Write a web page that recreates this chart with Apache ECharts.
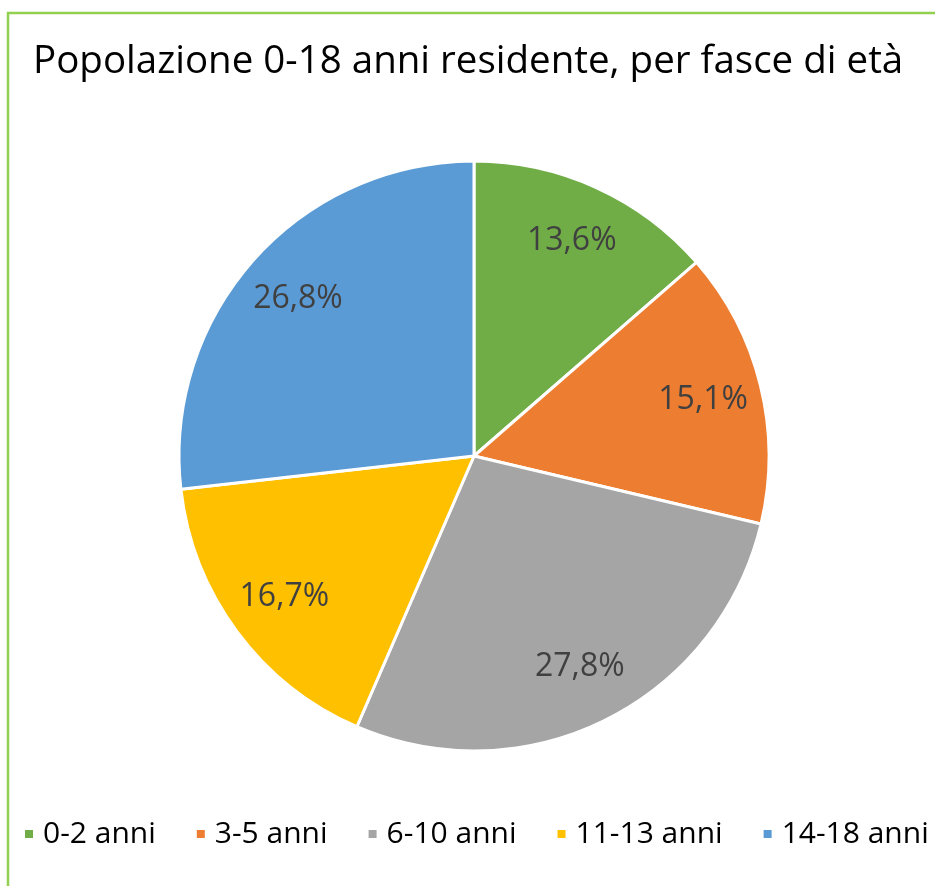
<!DOCTYPE html>
<html>
<head>
<meta charset="utf-8">
<script src="https://cdn.jsdelivr.net/npm/echarts@6/dist/echarts.min.js"></script>
<style>
html,body{margin:0;padding:0;background:#fff;}
#c{width:935px;height:886px;}
</style>
</head>
<body>
<div id="c"></div>
<script>
const titleText = 'Popolazione 0-18 anni residente, per fasce di età';
const categories = ['0-2 anni', '3-5 anni', '6-10 anni', '11-13 anni', '14-18 anni'];
const values = [13.6, 15.1, 27.8, 16.7, 26.8];
const colors = ['#70ad47', '#ed7d31', '#a5a5a5', '#ffc000', '#5b9bd5'];

const data = categories.map((c, i) => ({ name: c, value: values[i] }));
const FONT = '"Open Sans", sans-serif';

const chart = echarts.init(document.getElementById('c'));
chart.setOption({
  animation: false,
  color: colors,
  graphic: [{
    type: 'rect', silent: true, z: -1,
    shape: { x: 8, y: 13, width: 1200, height: 1200 },
    style: { fill: 'none', stroke: '#92d050', lineWidth: 2.5 }
  }],
  title: {
    text: titleText, left: 28, top: 38,
    textStyle: { fontFamily: FONT, fontSize: 38.5, fontWeight: 'normal', color: '#000' }
  },
  legend: {
    data: categories, left: 18, top: 814,
    icon: 'rect', itemWidth: 10, itemHeight: 10, itemGap: 39,
    textStyle: { fontFamily: FONT, fontSize: 30, color: '#000', padding: [0, 0, 0, 4] }
  },
  series: [{
    type: 'pie', center: [474, 456], radius: 295, startAngle: 90, clockwise: true,
    data: data,
    itemStyle: { borderColor: '#fff', borderWidth: 3 },
    label: { show: false }, labelLine: { show: false },
    emphasis: { disabled: true }
  }, {
    type: 'pie', center: [474, 456], radius: [171, 295], startAngle: 90, clockwise: true,
    data: data, silent: true, legendHoverLink: false,
    itemStyle: { color: 'rgba(0,0,0,0)', borderWidth: 0 },
    label: {
      show: true, position: 'inside',
      formatter: p => p.value.toFixed(1).replace('.', ',') + '%',
      fontFamily: FONT, fontSize: 32, color: '#404040'
    },
    labelLine: { show: false },
    emphasis: { disabled: true }
  }]
});
</script>
</body>
</html>
